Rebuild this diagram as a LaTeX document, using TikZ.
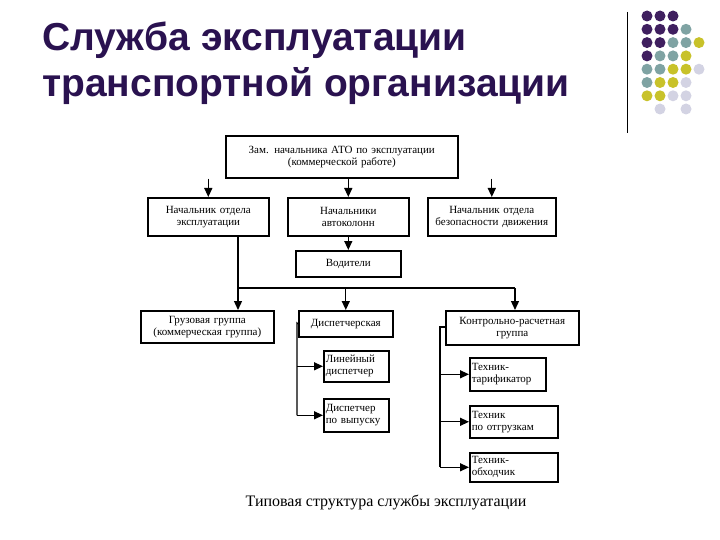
\documentclass[tikz,border=0pt]{standalone}
\usepackage{fontspec}
\setmainfont{Liberation Serif}
\newfontfamily\titlefont{Liberation Sans}
\usetikzlibrary{arrows.meta}
\definecolor{dotP}{HTML}{3F1F5F}
\definecolor{dotT}{HTML}{7FA3A3}
\definecolor{dotY}{HTML}{C8C22A}
\definecolor{dotL}{HTML}{D3D3E3}
\definecolor{titleC}{HTML}{2A1250}
\begin{document}
\begin{tikzpicture}[x = 1pt, y = -1pt, every node/.append style={inner sep = 1pt, align = center, font = \fontsize{11}{12}\selectfont},
  box/.style={draw, line width = 1.6pt, minimum width = #1, anchor = north west, text width = #1 - 4pt},
  link/.style={line width = 1.3pt, -{Triangle[length = 9pt, width = 8pt]}},
  dot/.style={circle, fill = #1, minimum size = 11pt, inner sep = 0pt}]

  \useasboundingbox (0, 0) rectangle (720, 540);

  \node[font = \titlefont\bfseries\fontsize{39}{46}\selectfont, text = titleC, align = left, anchor = north west, inner sep = 0pt] (title) at (42, 22) {Служба эксплуатации\\транспортной организации};
  \coordinate (vtop) at (627, 12);
  \coordinate (vbot) at (627, 133);
  \draw (vtop) -- (vbot);

  % dots
  \foreach \row/\cols in {0/{P,P,P}, 1/{P,P,P,T}, 2/{P,P,T,T,Y}, 3/{P,T,T,Y}, 4/{T,T,Y,Y,L}, 5/{T,Y,Y,L}, 6/{Y,Y,L,L}} {
    \foreach \c [count = \i from 0] in \cols {
      \node[dot = dot\c] (d\row\i) at (647 + 13*\i, 16 + 13.3*\row) {};
    }
  }
  \node[dot = dotL] (d71) at (660, 109) {};
  \node[dot = dotL] (d73) at (686, 109) {};

  \node[box = 232pt, minimum height = 42pt] (zam) at (225, 135) { Зам. начальника АТО по эксплуатации\\(коммерческой работе) };

  \node[box = 121pt, minimum height = 38pt] (otdel) at (147, 197) { Начальник отдела\\эксплуатации };
  \node[box = 121pt, minimum height = 38pt] (kolon) at (287, 197) { Начальники\\автоколонн };
  \node[box = 128pt, minimum height = 38pt] (bez) at (427, 197) { Начальник отдела\\безопасности движения };
  \node[box = 105pt, minimum height = 26pt] (vod) at (295, 250) { Водители };

  \draw[link] (zam.south -| otdel) -- (otdel);
  \draw[link] (zam.south -| kolon) -- (kolon);
  \draw[link] (zam.south -| bez) -- (bez);
  \draw[link] (kolon) -- (vod);

  \node[box = 133pt, minimum height = 32pt] (gruz) at (140, 310) { Грузовая группа\\(коммерческая группа) };
  \node[box = 94pt, minimum height = 26pt] (disp) at (298, 310) { Диспетчерская };
  \node[box = 133pt, minimum height = 34pt] (krg) at (445, 310) { Контрольно-расчетная\\группа };

  \coordinate (split) at (238, 288);
  \coordinate (splitR) at (515, 288);
  \draw[line width = 1.3pt] (otdel.south -| split) -- (split) -- (splitR);
  \draw[link] (split) -- (gruz.north -| split);
  \draw[link] (split -| disp) -- (disp);
  \draw[link] (splitR) -- (krg.north -| splitR);

  \node[box = 65pt, minimum height = 31pt, align = left] (lin) at (323, 350) { Линейный\\диспетчер };
  \node[box = 65pt, minimum height = 33pt, align = left] (vyp) at (323, 398) { Диспетчер\\по выпуску };
  \coordinate (dl) at (297, 323);
  \draw[line width = 1.3pt] (disp.west) -- (dl) -- (dl |- vyp.west);
  \draw[link] (dl |- lin.west) -- (lin.west);
  \draw[link] (dl |- vyp.west) -- (vyp.west);

  \node[box = 76pt, minimum height = 33pt, align = left] (tar) at (469, 357) { Техник-\\тарификатор };
  \node[box = 88pt, minimum height = 32pt, align = left] (otgr) at (469, 405) { Техник\\по отгрузкам };
  \node[box = 88pt, minimum height = 29pt, align = left] (obh) at (469, 452) { Техник-\\обходчик };
  \coordinate (kl) at (440, 327);
  \draw[line width = 1.3pt] (krg.west |- kl) -- (kl) -- (kl |- obh.west);
  \draw[link] (kl |- tar.west) -- (tar.west);
  \draw[link] (kl |- otgr.west) -- (otgr.west);
  \draw[link] (kl |- obh.west) -- (obh.west);

  \node[font = \fontsize{16}{18}\selectfont] (cap) at (388, 502) { Типовая структура службы эксплуатации };

\end{tikzpicture}
\end{document}
